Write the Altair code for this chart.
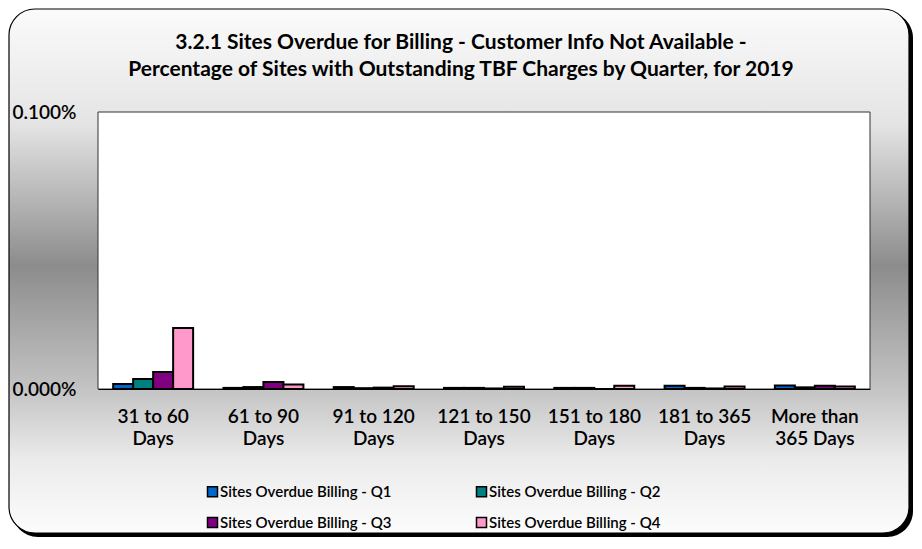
import altair as alt
import pandas as pd

categories = ["31 to 60\nDays", "61 to 90\nDays", "91 to 120\nDays", "121 to 150\nDays",
              "151 to 180\nDays", "181 to 365\nDays", "More than\n365 Days"]
series = ["Sites Overdue Billing - Q1", "Sites Overdue Billing - Q2",
          "Sites Overdue Billing - Q3", "Sites Overdue Billing - Q4"]
colors = ["#0066cc", "#008080", "#800080", "#ff99cc"]

q1 = [0.000018, 0.000004, 0.000007, 0.000004, 0.000004, 0.000012, 0.000013]
q2 = [0.000036, 0.000007, 0.000003, 0.000004, 0.000004, 0.000004, 0.000006]
q3 = [0.000061, 0.000025, 0.000005, 0.000002, 0.0, 0.000002, 0.000012]
q4 = [0.000220, 0.000016, 0.000010, 0.000008, 0.000012, 0.000009, 0.000009]

title_lines = ["3.2.1 Sites Overdue for Billing - Customer Info Not Available -",
               "Percentage of Sites with Outstanding TBF Charges  by Quarter, for 2019"]

rows = []
for s, vals in zip(series, [q1, q2, q3, q4]):
    for c, v in zip(categories, vals):
        rows.append({"category": c, "series": s, "value": v})
df = pd.DataFrame(rows)

W, H = 772, 277
FONT = "Lato"
one = pd.DataFrame({"k": [0]})

shadow = alt.Chart(one).mark_rect(fill="black", cornerRadius=26).encode(
    x=alt.value(-86), x2=alt.value(815), y=alt.value(-100), y2=alt.value(425))

bg = alt.Chart(one).mark_rect(
    cornerRadius=26, stroke="black", strokeWidth=1.2,
    fill=alt.LinearGradient(
        gradient="linear", x1=0, x2=0, y1=0, y2=1,
        stops=[alt.GradientStop(color="#fbfbfb", offset=0),
               alt.GradientStop(color="#e4e4e4", offset=0.22),
               alt.GradientStop(color="#8c8c8c", offset=0.49),
               alt.GradientStop(color="#c2c2c2", offset=0.72),
               alt.GradientStop(color="#ebebeb", offset=0.86),
               alt.GradientStop(color="#fcfcfc", offset=1)])
).encode(x=alt.value(-89), x2=alt.value(811), y=alt.value(-103), y2=alt.value(421))

plotbg = alt.Chart(one).mark_rect(fill="white", stroke="#333333", strokeWidth=1).encode(
    x=alt.value(0), x2=alt.value(W), y=alt.value(0), y2=alt.value(H))

t1 = alt.Chart(one).mark_text(font=FONT, fontSize=21, fontWeight="bold", color="black",
                               align="center", baseline="middle").encode(
    x=alt.value(363), y=alt.value(-69), text=alt.value(title_lines[0]))
t2 = alt.Chart(one).mark_text(font=FONT, fontSize=21, fontWeight="bold", color="black",
                               align="center", baseline="middle").encode(
    x=alt.value(363), y=alt.value(-42), text=alt.value(title_lines[1]))

bars = alt.Chart(df).mark_bar(stroke="black", strokeWidth=2).encode(
    x=alt.X("category:N", sort=categories, title=None,
            scale=alt.Scale(paddingInner=0.275, paddingOuter=0.1375),
            axis=alt.Axis(labelExpr="split(datum.label, '\\n')", labelAngle=0,
                          labelFont=FONT, labelFontSize=19, labelFontWeight=600,
                          labelColor="black", labelPadding=18, labelLineHeight=22,
                          labelBaseline="top",
                          ticks=False, domain=True, domainColor="black", domainWidth=1,
                          zindex=1)),
    xOffset=alt.XOffset("series:N", sort=series, scale=alt.Scale(paddingInner=0, paddingOuter=0)),
    y=alt.Y("value:Q", title=None, scale=alt.Scale(domain=[0, 0.001], nice=False),
            axis=alt.Axis(values=[0, 0.001], format=".3%", grid=False, ticks=False,
                          domain=False, labelAlign="left", labelPadding=86,
                          labelFont=FONT, labelFontSize=19, labelFontWeight=600,
                          labelColor="black", labelBaseline="middle", zindex=1)),
    color=alt.Color("series:N", sort=series,
                    scale=alt.Scale(domain=series, range=colors),
                    legend=alt.Legend(orient="none", legendX=107, legendY=372,
                                      columns=2, direction="horizontal",
                                      title=None, padding=0,
                                      symbolType="square", symbolSize=100,
                                      symbolStrokeColor="black", symbolStrokeWidth=1.5,
                                      labelFont=FONT, labelFontSize=15, labelFontWeight=600,
                                      labelColor="black", labelOffset=0, labelLimit=400,
                                      columnPadding=81, rowPadding=14, zindex=1)),
)

chart = alt.layer(shadow, bg, plotbg, t1, t2, bars).properties(
    width=W, height=H,
    autosize=alt.AutoSizeParams(type="none"),
    padding={"left": 90, "top": 104, "right": 44, "bottom": 149},
).configure_view(stroke=None)

chart.save("out.html", embed_options={"renderer": "svg", "actions": False})
